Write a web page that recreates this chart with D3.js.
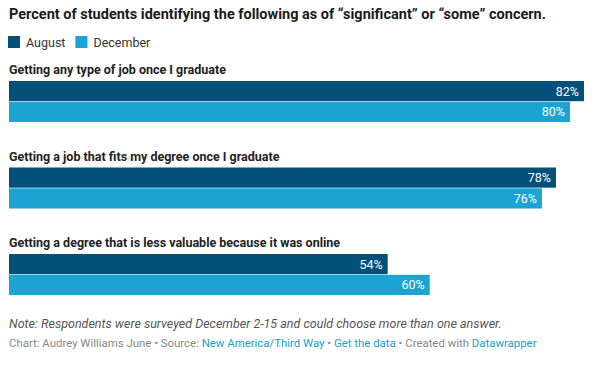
<!DOCTYPE html>
<html>
<head>
<meta charset="utf-8">
<script src="https://cdn.jsdelivr.net/npm/d3@7"></script>
<style>
  html, body { margin: 0; padding: 0; background: #fff; }
  body { width: 600px; height: 367px; overflow: hidden; font-family: Roboto, "Noto Sans", sans-serif; }
  svg text { font-family: Roboto, "Noto Sans", sans-serif; }
</style>
</head>
<body>
<div id="chart"></div>
<script>
// values
const categories = [
  "Getting any type of job once I graduate",
  "Getting a job that fits my degree once I graduate",
  "Getting a degree that is less valuable because it was online"
];
const seriesNames = ["August", "December"];
const august = [82, 78, 54];
const december = [80, 76, 60];
const colors = ["#03507a", "#1ba3d1"];

const W = 600, Ht = 367;
const m = { l: 9, r: 16 };
const svg = d3.select("#chart").append("svg")
  .attr("width", W).attr("height", Ht).attr("viewBox", `0 0 ${W} ${Ht}`);

// title
svg.append("text").attr("x", 9).attr("y", 19)
  .style("font-size", "14.5px").style("font-weight", 700).attr("fill", "#1a1a1a")
  .text("Percent of students identifying the following as of \u201csignificant\u201d or \u201csome\u201d concern.");

// legend
const leg = svg.append("g").attr("transform", "translate(8,36)");
let lx = 0;
seriesNames.forEach((s, i) => {
  const g = leg.append("g").attr("transform", `translate(${lx},0)`);
  g.append("rect").attr("width", 12).attr("height", 12).attr("fill", colors[i]);
  const t = g.append("text").attr("x", 18).attr("y", 10.5)
    .style("font-size", "12.5px").attr("fill", "#333").text(s);
  lx += 18 + t.node().getComputedTextLength() + 10;
});

const rows = categories.map((c, i) => ({ cat: c, vals: [august[i], december[i]] }));

const x = d3.scaleLinear().domain([0, d3.max([...august, ...december])]).range([m.l, W - m.r]);
const y = d3.scaleBand().domain(categories).range([81, 81 + 86.5 * categories.length]);
const yi = d3.scaleBand().domain(seriesNames).range([0, 41]).paddingInner(0.03);

const grp = svg.append("g").selectAll("g").data(rows).join("g")
  .attr("transform", d => `translate(0,${y(d.cat)})`);

grp.append("text").attr("x", 9).attr("y", -7)
  .style("font-size", "12.5px").style("font-weight", 700).attr("fill", "#222")
  .text(d => d.cat);

grp.each(function (d) {
  const g = d3.select(this);
  const bars = d.vals.map((v, j) => ({ s: seriesNames[j], v, c: colors[j] }));
  g.selectAll("rect").data(bars).join("rect")
    .attr("x", x(0)).attr("y", b => yi(b.s))
    .attr("width", b => x(b.v) - x(0)).attr("height", yi.bandwidth())
    .attr("fill", b => b.c);
  g.selectAll("text.val").data(bars).join("text").attr("class", "val")
    .attr("x", b => x(b.v) - 5).attr("y", b => yi(b.s) + yi.bandwidth() / 2)
    .attr("dy", "0.36em").attr("text-anchor", "end")
    .style("font-size", "12.5px").attr("fill", "#fff")
    .text(b => b.v + "%");
});

// footer
svg.append("text").attr("x", 9).attr("y", 328)
  .style("font-size", "12.5px").style("font-style", "italic").attr("fill", "#555")
  .text("Note: Respondents were surveyed December 2-15 and could choose more than one answer.");

const credit = svg.append("text").attr("x", 9).attr("y", 347)
  .style("font-size", "11.4px").attr("fill", "#888");
[["Chart: Audrey Williams June \u2022 Source: ", "#888"], ["New America/Third Way", "#18a1cd"],
 [" \u2022 ", "#888"], ["Get the data", "#18a1cd"], [" \u2022 Created with ", "#888"], ["Datawrapper", "#18a1cd"]]
  .forEach(([t, c]) => credit.append("tspan").attr("fill", c).text(t));
</script>
</body>
</html>
